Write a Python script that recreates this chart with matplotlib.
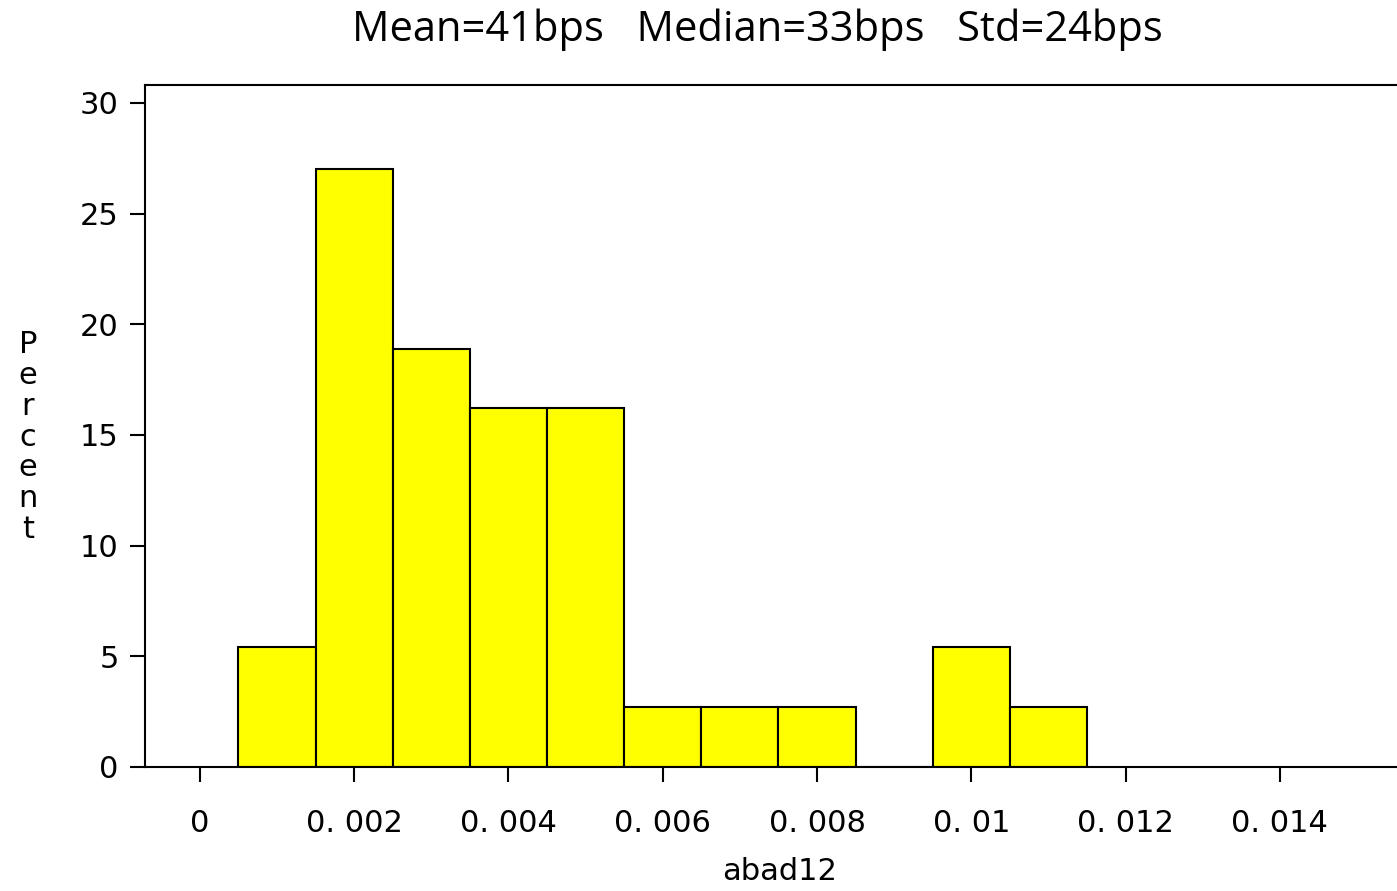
import matplotlib
matplotlib.use("Agg")
import matplotlib.pyplot as plt

bin_centers = [0.001, 0.002, 0.003, 0.004, 0.005, 0.006, 0.007, 0.008, 0.009, 0.010, 0.011]
percents = [5.4, 27.0, 18.9, 16.2, 16.2, 2.7, 2.7, 2.7, 0.0, 5.4, 2.7]
bin_width = 0.001
xticks = [0, 0.002, 0.004, 0.006, 0.008, 0.010, 0.012, 0.014]
xtick_labels = ["0", "0. 002", "0. 004", "0. 006", "0. 008", "0. 01", "0. 012", "0. 014"]
yticks = [0, 5, 10, 15, 20, 25, 30]
title = "Mean=41bps   Median=33bps   Std=24bps"
xlabel = "abad12"
ylabel = "Percent"

W, H = 1397, 891
fig = plt.figure(figsize=(W / 100, H / 100), dpi=100)
left = 145 / W
bottom = 1 - 767 / H
top = 1 - 85 / H
ax = fig.add_axes([left, bottom, 1.01 - left, top - bottom])

ax.bar(bin_centers, percents, width=bin_width, color="#FFFF00", edgecolor="black", linewidth=1.5, align="center")

ax.set_xlim(-0.000712, 0.01570)
ax.set_ylim(0, 30.81)
ax.set_xticks(xticks)
ax.set_xticklabels(xtick_labels)
ax.set_yticks(yticks)

FS = 22
tick_font = dict(family="DejaVu Sans", size=FS)
for lab in ax.get_xticklabels() + ax.get_yticklabels():
    lab.set_fontfamily("DejaVu Sans")
    lab.set_fontsize(FS)

ax.tick_params(axis="x", direction="out", length=11, width=1.5, pad=19)
ax.tick_params(axis="y", direction="out", length=11, width=1.5, pad=8)
for s in ax.spines.values():
    s.set_linewidth(1.5)
ax.spines["right"].set_visible(False)

fig.text(757 / W, 1 - 30 / H, title, ha="center", va="center", family="Open Sans", fontsize=30)
fig.text(780 / W, 1 - 872 / H, xlabel, ha="center", va="center", **tick_font)
fig.text(28 / W, 1 - 437 / H, "\n".join(ylabel), ha="center", va="center", linespacing=1.08, **tick_font)

fig.savefig("out.png", dpi=100)
